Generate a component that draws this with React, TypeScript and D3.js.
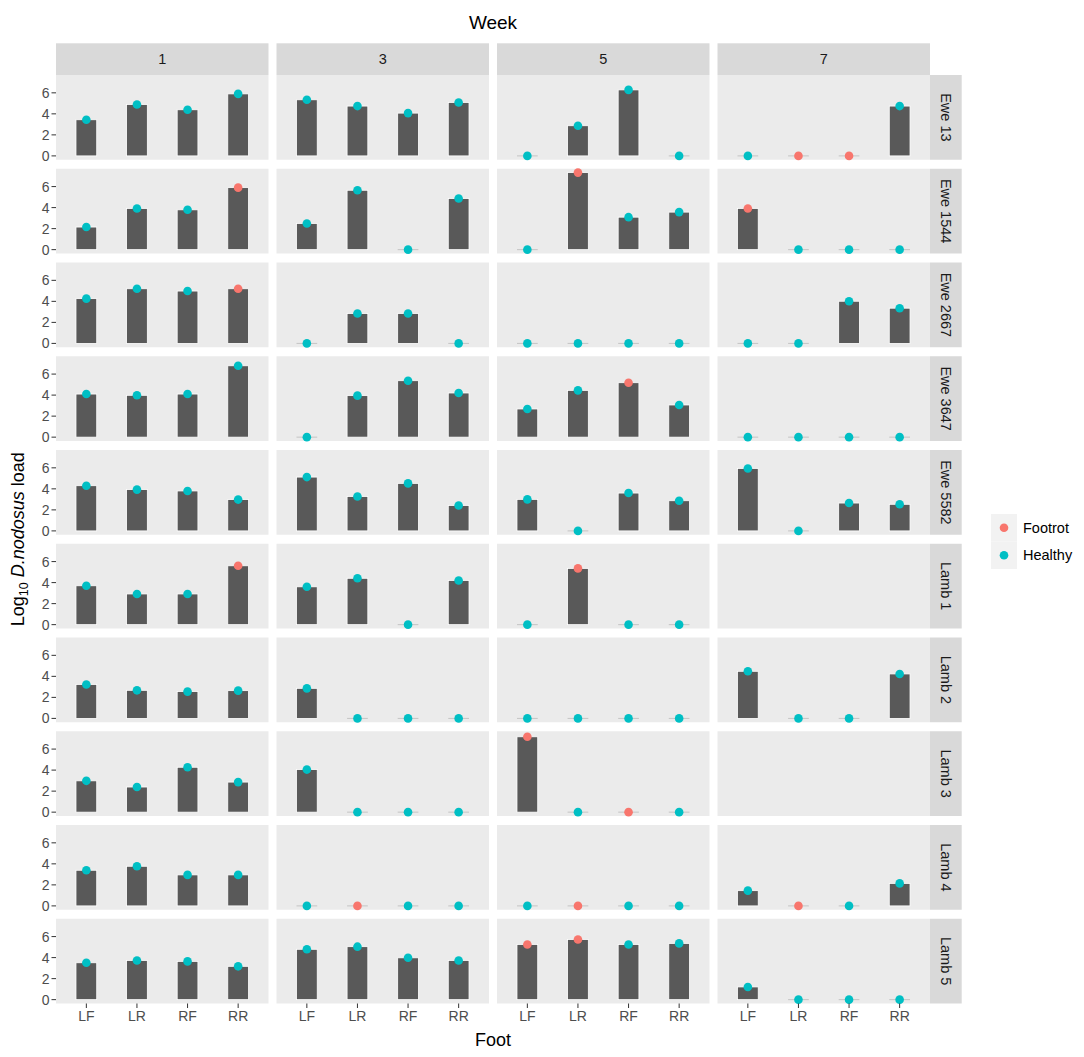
import React from 'react'
import * as d3 from 'd3'

const animals = ['Ewe 13', 'Ewe 1544', 'Ewe 2667', 'Ewe 3647', 'Ewe 5582', 'Lamb 1', 'Lamb 2', 'Lamb 3', 'Lamb 4', 'Lamb 5']
const weeks = ['1', '3', '5', '7']
const feet = ['LF', 'LR', 'RF', 'RR']
const yTicks = [0, 2, 4, 6]
const statuses = ['Footrot', 'Healthy']

// log10 load per animal (rows) and foot (columns); null = not sampled
const loadWeek1 = [
  [3.44, 4.89, 4.39, 5.9],
  [2.15, 3.92, 3.79, 5.9],
  [4.26, 5.2, 4.98, 5.2],
  [4.1, 3.98, 4.1, 6.79],
  [4.3, 3.93, 3.8, 2.98],
  [3.7, 2.92, 2.92, 5.6],
  [3.23, 2.67, 2.55, 2.64],
  [2.98, 2.39, 4.27, 2.86],
  [3.39, 3.77, 2.95, 2.95],
  [3.51, 3.73, 3.64, 3.17],
]
const loadWeek3 = [
  [5.34, 4.74, 4.07, 5.08],
  [2.49, 5.65, 0, 4.86],
  [0, 2.84, 2.84, 0],
  [0, 3.95, 5.37, 4.2],
  [5.12, 3.27, 4.52, 2.42],
  [3.6, 4.41, 0, 4.2],
  [2.86, 0, 0, 0],
  [4.05, 0, 0, 0],
  [0, 0, 0, 0],
  [4.79, 5.04, 3.98, 3.73],
]
const loadWeek5 = [
  [0, 2.87, 6.28, 0],
  [0, 7.33, 3.09, 3.57],
  [0, 0, 0, 0],
  [2.68, 4.45, 5.18, 3.06],
  [3.0, 0, 3.6, 2.87],
  [0, 5.35, 0, 0],
  [0, 0, 0, 0],
  [7.17, 0, 0, 0],
  [0, 0, 0, 0],
  [5.25, 5.72, 5.25, 5.35],
]
const loadWeek7 = [
  [0, 0, 0, 4.74],
  [3.92, 0, 0, 0],
  [0, 0, 4.01, 3.35],
  [0, 0, 0, 0],
  [5.94, 0, 2.65, 2.53],
  null,
  [4.48, 0, 0, 4.23],
  null,
  [1.45, 0, 0, 2.14],
  [1.21, 0, 0, 0],
]

// F = Footrot, H = Healthy
const statusWeek1 = ['HHHH', 'HHHF', 'HHHF', 'HHHH', 'HHHH', 'HHHF', 'HHHH', 'HHHH', 'HHHH', 'HHHH']
const statusWeek3 = ['HHHH', 'HHHH', 'HHHH', 'HHHH', 'HHHH', 'HHHH', 'HHHH', 'HHHH', 'HFHH', 'HHHH']
const statusWeek5 = ['HHHH', 'HFHH', 'HHHH', 'HHFH', 'HHHH', 'HFHH', 'HHHH', 'FHFH', 'HFHH', 'FFHH']
const statusWeek7 = ['HFFH', 'FHHH', 'HHHH', 'HHHH', 'HHHH', '', 'HHHH', '', 'HFHH', 'HHHH']

const loads = [loadWeek1, loadWeek3, loadWeek5, loadWeek7]
const status = [statusWeek1, statusWeek3, statusWeek5, statusWeek7]

const W = 1084
const H = 1057
const panelLeft = 56
const panelTop = 75
const panelW = 212.5
const panelH = 84.75
const gapX = 8
const gapY = 9
const stripH = 31.7
const stripW = 31.7
const font = '"Liberation Sans", Arial, sans-serif'

const colour = d3.scaleOrdinal<string, string>().domain(statuses).range(['#F8766D', '#00BFC4'])

export default function App() {
  const allValues = loads.flatMap(w => w.flatMap(r => r || []))
  const maxV = d3.max(allValues) as number
  const y = d3.scaleLinear()
    .domain([-0.05 * maxV, maxV * 1.05])
    .range([panelH, 0])
  const x = d3.scalePoint<string>().domain(feet).range([0, panelW]).padding(0.6)
  const barW = x.step() * 0.41

  const right = panelLeft + 4 * panelW + 3 * gapX
  const bottom = panelTop + 10 * panelH + 9 * gapY

  return (
    <svg width={W} height={H} style={{ position: 'absolute', left: 0, top: 0, background: '#fff' }} fontFamily={font}>
      <rect width={W} height={H} fill="#fff" />
      {/* column title */}
      <text x={(panelLeft + right) / 2} y={29} textAnchor="middle" fontSize={19} fill="#000">Week</text>

      {weeks.map((wk, c) => {
        const px = panelLeft + c * (panelW + gapX)
        return (
          <g key={wk}>
            <rect x={px} y={panelTop - stripH} width={panelW} height={stripH} fill="#D9D9D9" />
            <text x={px + panelW / 2} y={panelTop - stripH / 2} dy="0.36em" textAnchor="middle" fontSize={14.5} fill="#1A1A1A">{wk}</text>
          </g>
        )
      })}

      {animals.map((an, r) => {
        const py = panelTop + r * (panelH + gapY)
        return (
          <g key={an}>
            <rect x={right} y={py} width={stripW} height={panelH} fill="#D9D9D9" />
            <text
              transform={`translate(${right + stripW / 2},${py + panelH / 2}) rotate(90)`}
              dy="0.36em" textAnchor="middle" fontSize={14.5} fill="#1A1A1A"
            >{an}</text>
            {weeks.map((wk, c) => {
              const px = panelLeft + c * (panelW + gapX)
              const vals = loads[c][r]
              const st = status[c][r]
              return (
                <g key={wk} transform={`translate(${px},${py})`}>
                  <rect width={panelW} height={panelH} fill="#EBEBEB" />
                  {vals && vals.map((v, i) => {
                    const cx = x(feet[i]) as number
                    return v > 0 ? (
                      <rect key={'b' + i} x={cx - barW / 2} y={y(v)} width={barW} height={y(0) - y(v)}
                        fill="#595959" stroke="#fff" strokeWidth={0.8} />
                    ) : (
                      <line key={'b' + i} x1={cx - barW / 2} x2={cx + barW / 2} y1={y(0)} y2={y(0)}
                        stroke="#C4C4C4" strokeWidth={1} />
                    )
                  })}
                  {vals && vals.map((v, i) => (
                    <circle key={'p' + i} cx={x(feet[i]) as number} cy={y(v)} r={4.3}
                      fill={colour(st[i] === 'F' ? 'Footrot' : 'Healthy')} />
                  ))}
                  {c === 0 && yTicks.map(t => (
                    <g key={t} transform={`translate(0,${y(t)})`}>
                      <line x1={-4.5} x2={0} stroke="#333" strokeWidth={1} />
                      <text x={-6.5} dy="0.36em" textAnchor="end" fontSize={14} fill="#4D4D4D">{t}</text>
                    </g>
                  ))}
                  {r === animals.length - 1 && feet.map(f => (
                    <g key={f} transform={`translate(${x(f)},${panelH})`}>
                      <line y1={0} y2={4.5} stroke="#333" strokeWidth={1} />
                      <text y={6.5} dy="0.75em" textAnchor="middle" fontSize={14} fill="#4D4D4D">{f}</text>
                    </g>
                  ))}
                </g>
              )
            })}
          </g>
        )
      })}

      {/* axis titles */}
      <text x={(panelLeft + right) / 2} y={1046} textAnchor="middle" fontSize={18} fill="#000">Foot</text>
      <text transform={`translate(24,${(panelTop + bottom) / 2}) rotate(-90)`} textAnchor="middle" fontSize={18} fill="#000">
        Log<tspan fontSize={12.5} dy={4}>10</tspan><tspan dy={-4}> </tspan><tspan fontStyle="italic">D.nodosus</tspan> load
      </text>

      {/* legend */}
      {statuses.map((s, i) => (
        <g key={s} transform={`translate(991,${514 + i * 27.5})`}>
          <rect width={26} height={27.5} fill="#F2F2F2" />
          <circle cx={13} cy={13.75} r={4.3} fill={colour(s)} />
          <text x={32} y={13.75} dy="0.36em" fontSize={14.5} fill="#000">{s}</text>
        </g>
      ))}
    </svg>
  )
}
